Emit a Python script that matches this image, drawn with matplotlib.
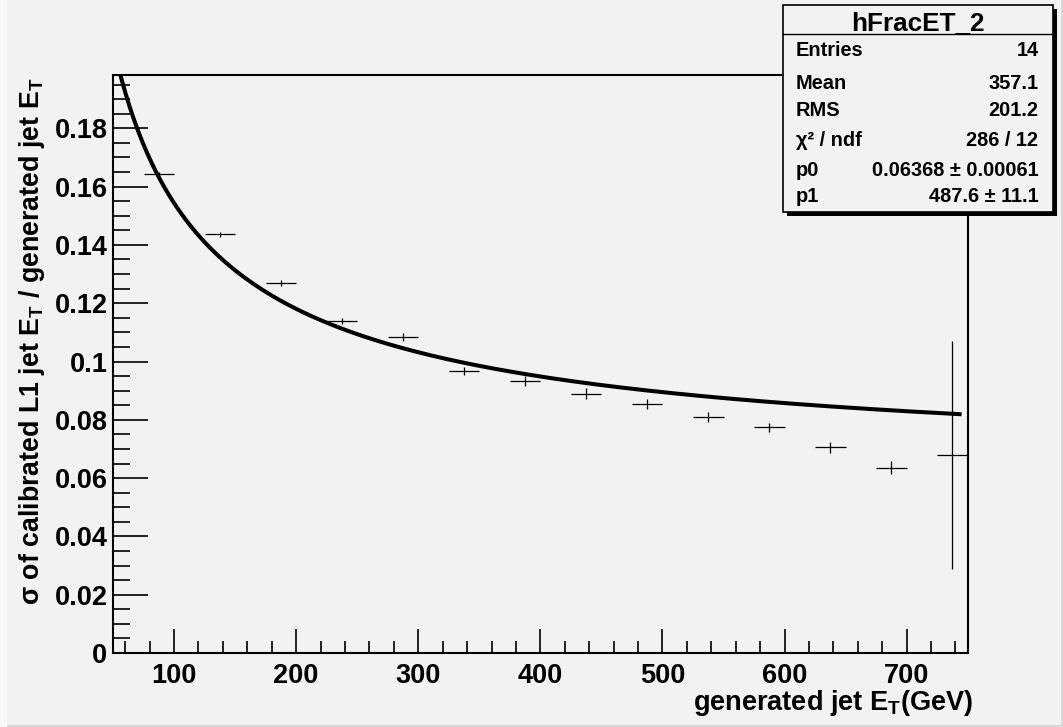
import numpy as np
import matplotlib
matplotlib.use("Agg")
import matplotlib.pyplot as plt
from matplotlib.patches import Rectangle
from matplotlib.lines import Line2D
from matplotlib.ticker import MultipleLocator

plt.rcParams['font.family'] = ['Liberation Sans', 'DejaVu Sans']
plt.rcParams['font.weight'] = 'bold'
plt.rcParams['mathtext.fontset'] = 'custom'
plt.rcParams['mathtext.rm'] = 'Liberation Sans:bold'
plt.rcParams['mathtext.it'] = 'Liberation Sans:bold'
plt.rcParams['mathtext.bf'] = 'Liberation Sans:bold'
plt.rcParams['mathtext.default'] = 'rm'

# histogram hFracET_2 : bin centres, contents, errors
et_gen = [87.5, 137.5, 187.5, 237.5, 287.5, 337.5, 387.5, 437.5,
          487.5, 537.5, 587.5, 637.5, 687.5, 737.5]
sigma_frac = [0.1642, 0.1436, 0.1270, 0.1139, 0.1083, 0.0968, 0.0933, 0.0890,
              0.0853, 0.0810, 0.0774, 0.0706, 0.0636, 0.0680]
sigma_err = [0.0008, 0.0010, 0.0011, 0.0011, 0.0014, 0.0014, 0.0016, 0.0018,
             0.0017, 0.0018, 0.0016, 0.0019, 0.0022, 0.0392]
bin_half = 12.5

# fit result from the stats box
p0 = 0.06368
p1 = 487.6
stats_rows = [("Entries", "14"), ("Mean", "357.1"), ("RMS", "201.2"),
              ("χ² / ndf", "286 / 12"), ("p0", "0.06368 ± 0.00061"),
              ("p1", "487.6 ± 11.1")]

W, H = 1063, 727
bg = '#f2f2f2'
fig = plt.figure(figsize=(W / 100, H / 100), dpi=100, facecolor=bg)


def fx(px):
    return px / W


def fy(py):
    return 1 - py / H


# canvas border
fig.add_artist(Rectangle((0, fy(727)), 1, fy(725) - fy(727), transform=fig.transFigure,
                         color='#d8d8d8', lw=0))
fig.add_artist(Rectangle((fx(1061), 0), fx(2), 1, transform=fig.transFigure,
                         color='#d8d8d8', lw=0))
fig.add_artist(Rectangle((0, 0), fx(7), 1, transform=fig.transFigure,
                         color='#f8f8f8', lw=0))

ax = fig.add_axes([fx(113), fy(653), fx(967.7 - 113), fy(74.7) - fy(653)])
ax.set_facecolor(bg)
ax.set_xlim(50, 750)
ax.set_ylim(0, 0.1984)

ax.errorbar(et_gen, sigma_frac, yerr=sigma_err, xerr=bin_half, fmt='none',
            ecolor='black', elinewidth=0.9, capsize=0, zorder=3)

xf = np.linspace(50, 745, 400)
ax.plot(xf, p0 * np.sqrt(1 + p1 / xf), color='black', lw=2.9, zorder=4,
        solid_capstyle='butt')

ax.xaxis.set_major_locator(MultipleLocator(100))
ax.xaxis.set_minor_locator(MultipleLocator(20))
ax.yaxis.set_major_locator(MultipleLocator(0.02))
ax.yaxis.set_minor_locator(MultipleLocator(0.005))
ax.tick_params(which='both', direction='in', width=1.2, top=False, right=False)
ax.tick_params(axis='x', which='major', length=17, labelsize=19.5, pad=7)
ax.tick_params(axis='x', which='minor', length=8.5)
ax.tick_params(axis='y', which='major', length=25, labelsize=19.5, pad=4)
ax.tick_params(axis='y', which='minor', length=12.5)
ax.set_xticks([100, 200, 300, 400, 500, 600, 700])
ax.set_yticks([0, 0.02, 0.04, 0.06, 0.08, 0.1, 0.12, 0.14, 0.16, 0.18])
ax.set_yticklabels(['0', '0.02', '0.04', '0.06', '0.08', '0.1', '0.12',
                    '0.14', '0.16', '0.18'])
for s in ax.spines.values():
    s.set_linewidth(1.5)

fig.text(fx(973), fy(710), r'generated jet E$_{\mathrm{T}}$(GeV)', ha='right',
         va='baseline', fontsize=19.5, fontweight='bold')
fig.text(fx(32), fy(78), r'σ of calibrated L1 jet E$_{\mathrm{T}}$ / generated jet E$_{\mathrm{T}}$',
         rotation=90, ha='center', va='top', fontsize=19.3, fontweight='bold')

# stats box
bx0, by0, bx1, by1 = 783, 5, 1052.7, 211.7
fig.add_artist(Rectangle((fx(bx0 + 4), fy(by1 + 4)), fx(bx1 - bx0), fy(by0) - fy(by1),
                         transform=fig.transFigure, facecolor='black', lw=0, zorder=10))
fig.add_artist(Rectangle((fx(bx0), fy(by1)), fx(bx1 - bx0), fy(by0) - fy(by1),
                         transform=fig.transFigure, facecolor=bg, edgecolor='black',
                         lw=1.2, zorder=11))
fig.add_artist(Line2D([fx(bx0), fx(bx1)], [fy(34.3), fy(34.3)], transform=fig.transFigure,
                      color='black', lw=1.0, zorder=12))
fig.text(fx((bx0 + bx1) / 2), fy(30), 'hFracET_2', ha='center', va='baseline',
         fontsize=18.8, fontweight='bold', zorder=13)
baselines = [56.5, 89, 116.5, 146.5, 176.5, 202.5]
for (name, val), yb in zip(stats_rows, baselines):
    fig.text(fx(795.5), fy(yb), name, ha='left', va='baseline', fontsize=14.4,
             fontweight='bold', zorder=13)
    fig.text(fx(1038.5), fy(yb), val, ha='right', va='baseline', fontsize=14.4,
             fontweight='bold', zorder=13)

fig.savefig('out.png', dpi=100, facecolor=bg)
